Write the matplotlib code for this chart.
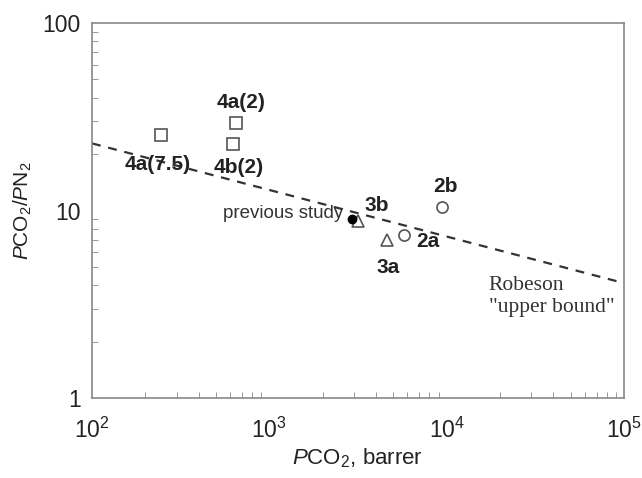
import numpy as np
import matplotlib
matplotlib.use("Agg")
from matplotlib import pyplot as plt

plt.rcParams['font.family'] = ['Liberation Sans', 'DejaVu Sans']
plt.rcParams['mathtext.fontset'] = 'custom'
plt.rcParams['mathtext.rm'] = 'Liberation Sans'
plt.rcParams['mathtext.it'] = 'Liberation Sans:italic'

# Data
square_x = [245, 646, 627]
square_y = [25.3, 29.2, 22.6]
triangle_x = [3155, 4590]
triangle_y = [8.8, 7.0]
circle_x = [5757, 9465]
circle_y = [7.4, 10.4]
previous_x = [2918]
previous_y = [9.0]

# Robeson upper bound end points
bound_x = [1e2, 1e5]
bound_y = [22.8, 4.1]

# labels: text, x, y (data coordinates)
labels = [("4a(2)", 690, 37.5),
          ("4a(7.5)", 235, 17.6),
          ("4b(2)", 670, 17.0),
          ("3b", 4050, 10.6),
          ("2b", 9900, 13.5),
          ("2a", 7850, 6.8),
          ("3a", 4700, 4.95)]

fig = plt.figure(figsize=(6.42, 4.78), dpi=100)
ax = fig.add_axes([92 / 642, 1 - 398 / 478, 532 / 642, 375 / 478])

ax.plot(bound_x, bound_y, color='#333333', ls=(0, (4, 3.5)), lw=1.6)

ax.plot(square_x, square_y, ls='', marker='s', ms=8, mfc='white',
        mec='#555555', mew=1.2)
ax.plot(triangle_x, triangle_y, ls='', marker='^', ms=8, mfc='white',
        mec='#555555', mew=1.2)
ax.plot(circle_x, circle_y, ls='', marker='o', ms=8, mfc='white',
        mec='#555555', mew=1.2)
ax.plot(previous_x, previous_y, ls='', marker='o', ms=6, color='black')

for text, x, y in labels:
    ax.text(x, y, text, fontsize=15, fontweight='bold', ha='center',
            va='center', color='#222222')

ax.text(1195, 9.6, "previous study", fontsize=13.5, ha='center',
        va='center', color='#333333')
ax.text(1.73e4, 4.45, 'Robeson\n"upper bound"', fontsize=15.5, ha='left',
        va='top', family='Liberation Serif', color='#333333',
        linespacing=1.2)

ax.set_xscale('log')
ax.set_yscale('log')
ax.set_xlim(1e2, 1e5)
ax.set_ylim(1, 100)

ax.set_yticks([1, 10, 100])
ax.set_yticklabels(['1', '10', '100'])
ax.set_xticks([1e2, 1e3, 1e4, 1e5])
ax.set_xticklabels([r'10$^2$', r'10$^3$', r'10$^4$', r'10$^5$'])

for s in ax.spines.values():
    s.set_color('#888888')
    s.set_linewidth(1.2)

ax.tick_params(which='both', direction='in', colors='#888888',
               labelcolor='#222222', labelsize=16.5)
ax.tick_params(which='major', length=0, pad=8)
ax.tick_params(which='minor', length=4)
ax.tick_params(axis='x', which='major', pad=14)

ax.set_xlabel(r'$\it{P}$CO$_2$, barrer', fontsize=16, color='#222222',
              labelpad=3)
ax.set_ylabel(r'$\it{P}$CO$_2$/$\it{P}$N$_2$', fontsize=15,
              color='#222222', labelpad=6)

fig.savefig('out.png', dpi=100)
